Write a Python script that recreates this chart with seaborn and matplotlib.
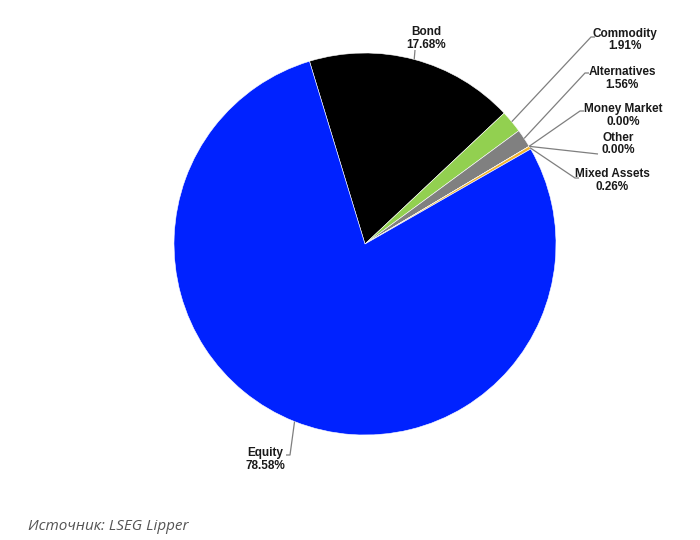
import numpy as np
import matplotlib
matplotlib.use("Agg")
import matplotlib.pyplot as plt
import seaborn as sns

sns.set_theme(style="white")
plt.rcParams['font.family'] = ['Liberation Sans', 'DejaVu Sans']

categories = ["Bond", "Commodity", "Alternatives", "Money Market", "Other", "Mixed Assets", "Equity"]
values = [17.68, 1.91, 1.56, 0.00, 0.00, 0.26, 78.58]
labels = ["17.68%", "1.91%", "1.56%", "0.00%", "0.00%", "0.26%", "78.58%"]
colors = ["#000000", "#92d050", "#808080", "#808080", "#808080", "#f2b530", "#0022ff"]

W, H = 700, 540
fig = plt.figure(figsize=(7, 5.4), dpi=100)
ax = fig.add_axes([0, 0, 1, 1])
ax.set_xlim(0, W)
ax.set_ylim(0, H)
ax.set_aspect('equal')
ax.axis('off')

cx, cy, R = 365, H - 244, 191
wedges, _ = ax.pie(values, colors=colors, startangle=106.9, counterclock=False,
                   center=(cx, cy), radius=R,
                   wedgeprops=dict(edgecolor='white', linewidth=0.4))
ax.set_xlim(0, W)
ax.set_ylim(0, H)

# label layout (text center x, text center y in pixel-from-top, leader end x, leader end y, hook direction)
layout = {
    "Bond":         (426, 38.5, 415, 50, 0),
    "Commodity":    (625, 40, 591, 37, 1),
    "Alternatives": (622, 78.5, 585, 73, 1),
    "Money Market": (623, 115.5, 580, 111, 1),
    "Other":        (618, 144, 598, 154, 0),
    "Mixed Assets": (612, 180.5, 575, 178, 1),
    "Equity":       (265, 459.5, 290, 455, -1),
}

for w, cat, lab in zip(wedges, categories, labels):
    mid = np.deg2rad((w.theta1 + w.theta2) / 2)
    ex = cx + R * np.cos(mid)
    ey = cy + R * np.sin(mid)
    tx, ty, lx, ly, hook = layout[cat]
    ly = H - ly
    xs = [ex, lx]
    ys = [ey, ly]
    if hook != 0:
        xs.append(lx + 4 * hook)
        ys.append(ly)
    ax.plot(xs, ys, color='#7f7f7f', linewidth=0.9, solid_capstyle='butt')
    ax.text(tx, H - ty, f"{cat}\n{lab}", ha='center', va='center',
            fontsize=8.5, fontweight='bold', color='#1a1a1a', linespacing=1.1)

fig.text(28 / W, 1 - 527 / H, "Источник: LSEG Lipper", ha='left', va='center',
         fontsize=11, style='italic', color='#555555',
         family=['Open Sans', 'DejaVu Sans'])

fig.savefig("out.png", dpi=100, facecolor='white')
